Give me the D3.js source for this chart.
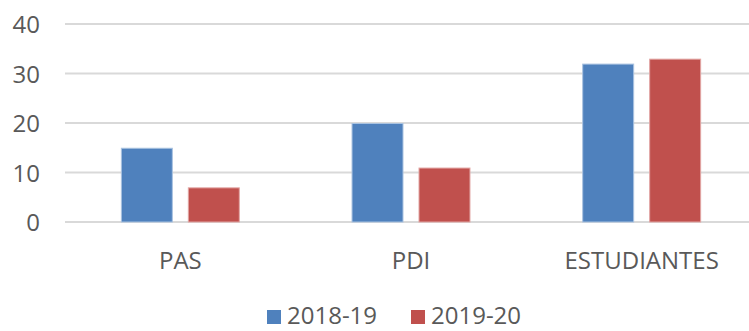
<!DOCTYPE html>
<html>
<head>
<meta charset="utf-8">
<script src="https://cdn.jsdelivr.net/npm/d3@7"></script>
<style>
  html, body { margin: 0; padding: 0; background: #fff; }
  svg { display: block; }
  text { font-family: "Open Sans", sans-serif; fill: #595959; }
</style>
</head>
<body>
<svg id="chart" width="749" height="331"></svg>
<script>
// Data
const categories = ["PAS", "PDI", "ESTUDIANTES"];
const seriesNames = ["2018-19", "2019-20"];
const values2018 = [15, 20, 32];
const values2019 = [7, 11, 33];
const yTicks = [0, 10, 20, 30, 40];
const seriesColors = ["#4F81BD", "#C0504D"];
const seriesStrokes = ["#A9C2E0", "#E2A6A4"];

const seriesValues = [values2018, values2019];

const svg = d3.select("#chart");
const W = 749, H = 331;

const plot = { left: 65, right: 757, top: 24, bottom: 222 };

const y = d3.scaleLinear().domain([0, 40]).range([plot.bottom, plot.top]);
const x0 = d3.scaleBand().domain(categories).range([plot.left, plot.right]).padding(0);
const x1 = d3.scaleBand().domain(seriesNames).range([0, x0.bandwidth()])
  .paddingInner(0.224).paddingOuter(0.834);

// Gridlines
svg.append("g").selectAll("line").data(yTicks).join("line")
  .attr("x1", plot.left).attr("x2", W)
  .attr("y1", d => y(d)).attr("y2", d => y(d))
  .attr("stroke", "#d9d9d9").attr("stroke-width", 2);

// Y axis labels
const yAxis = d3.axisLeft(y).tickValues(yTicks).tickSize(0).tickPadding(0);
const gy = svg.append("g").attr("transform", "translate(40,0)").call(yAxis);
gy.select(".domain").remove();
gy.selectAll("text")
  .attr("font-family", "Open Sans, sans-serif")
  .attr("font-size", 24)
  .attr("fill", "#595959")
  .attr("dy", "0.36em");

// Bars
const groups = svg.append("g").selectAll("g").data(categories).join("g")
  .attr("transform", d => `translate(${x0(d)},0)`);

groups.selectAll("rect")
  .data((c, i) => seriesNames.map((s, k) => ({ s, k, v: seriesValues[k][i] })))
  .join("rect")
  .attr("x", d => x1(d.s) + 0.5)
  .attr("width", x1.bandwidth() - 1)
  .attr("y", d => y(d.v) + 0.5)
  .attr("height", d => y(0) - y(d.v) - 0.5)
  .attr("fill", d => seriesColors[d.k])
  .attr("stroke", d => seriesStrokes[d.k])
  .attr("stroke-width", 1);

// Category labels
const xAxis = d3.axisBottom(x0).tickSize(0).tickPadding(0);
const gx = svg.append("g").attr("transform", "translate(0,269)").call(xAxis);
gx.select(".domain").remove();
gx.selectAll("text")
  .attr("font-family", "Open Sans, sans-serif")
  .attr("font-size", 24)
  .attr("fill", "#595959")
  .attr("dy", 0);

// Legend
const legendItems = [
  { name: seriesNames[0], color: seriesColors[0], x: 267 },
  { name: seriesNames[1], color: seriesColors[1], x: 411 }
];
const lg = svg.append("g");
lg.selectAll("rect").data(legendItems).join("rect")
  .attr("x", d => d.x).attr("y", 310)
  .attr("width", 14).attr("height", 14)
  .attr("fill", d => d.color);
lg.selectAll("text").data(legendItems).join("text")
  .attr("x", d => d.x + 20).attr("y", 324)
  .attr("font-size", 24)
  .text(d => d.name);
</script>
</body>
</html>
